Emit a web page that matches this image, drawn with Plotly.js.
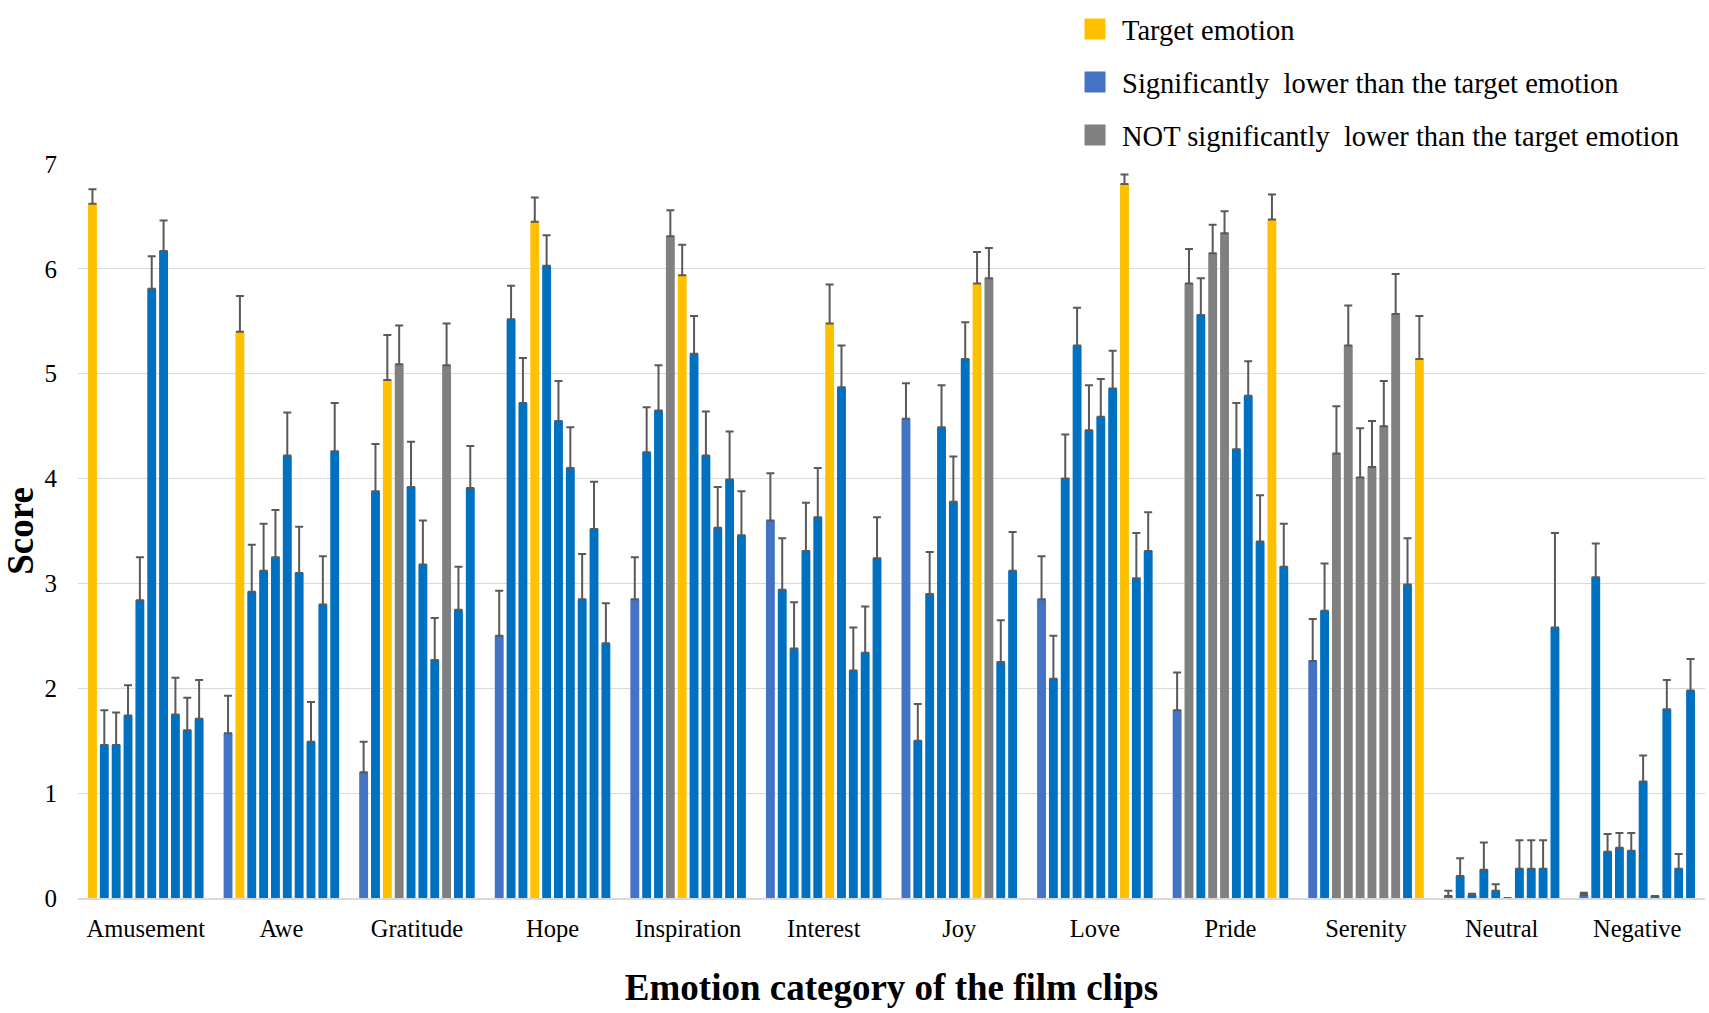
<!DOCTYPE html>
<html>
<head>
<meta charset="utf-8">
<script src="https://cdn.plot.ly/plotly-3.0.1.min.js"></script>
<style>
  html, body { margin: 0; padding: 0; background: #ffffff; }
  #chart { width: 1709px; height: 1013px; }
</style>
</head>
<body>
<div id="chart"></div>
<script>
// Film categories (x axis groups)
const filmCategories = ['Amusement', 'Awe', 'Gratitude', 'Hope', 'Inspiration', 'Interest',
                        'Joy', 'Love', 'Pride', 'Serenity', 'Neutral', 'Negative'];
// Rated emotions (bars within each group, in order)
const ratedEmotions = ['Amusement', 'Awe', 'Gratitude', 'Hope', 'Inspiration', 'Interest',
                       'Joy', 'Love', 'Pride', 'Serenity'];

// Mean scores per film category (one value per rated emotion)
const meanAmusement   = [6.62, 1.46, 1.46, 1.74, 2.84, 5.81, 6.17, 1.75, 1.60, 1.71];
const meanAwe         = [1.57, 5.40, 2.92, 3.12, 3.25, 4.22, 3.10, 1.49, 2.80, 4.26];
const meanGratitude   = [1.20, 3.88, 4.94, 5.09, 3.92, 3.18, 2.27, 5.08, 2.75, 3.91];
const meanHope        = [2.50, 5.52, 4.72, 6.45, 6.03, 4.55, 4.10, 2.85, 3.52, 2.43];
const meanInspiration = [2.85, 4.25, 4.65, 6.31, 5.94, 5.19, 4.22, 3.53, 3.99, 3.46];
const meanInterest    = [3.60, 2.94, 2.38, 3.31, 3.63, 5.48, 4.87, 2.17, 2.34, 3.24];
const meanJoy         = [4.57, 1.50, 2.90, 4.49, 3.78, 5.14, 5.86, 5.91, 2.25, 3.12];
const meanLove        = [2.85, 2.09, 4.00, 5.27, 4.46, 4.59, 4.86, 6.81, 3.05, 3.31];
const meanPride       = [1.79, 5.86, 5.56, 6.15, 6.34, 4.28, 4.79, 3.40, 6.47, 3.16];
const meanSerenity    = [2.26, 2.74, 4.24, 5.27, 4.01, 4.11, 4.50, 5.57, 2.99, 5.14];
const meanNeutral     = [0.02, 0.21, 0.03, 0.27, 0.07, 0.00, 0.28, 0.28, 0.28, 2.58];
const meanNegative    = [0.03, 3.06, 0.44, 0.48, 0.45, 1.11, 0.02, 1.80, 0.28, 1.98];

// Upper error bar lengths per film category
const errAmusement    = [0.14, 0.33, 0.31, 0.29, 0.41, 0.31, 0.29, 0.35, 0.31, 0.37];
const errAwe          = [0.36, 0.34, 0.45, 0.45, 0.45, 0.41, 0.44, 0.38, 0.46, 0.46];
const errGratitude    = [0.29, 0.45, 0.43, 0.37, 0.43, 0.42, 0.40, 0.40, 0.41, 0.40];
const errHope         = [0.43, 0.32, 0.43, 0.23, 0.29, 0.38, 0.39, 0.43, 0.45, 0.38];
const errInspiration  = [0.40, 0.43, 0.43, 0.25, 0.29, 0.36, 0.42, 0.39, 0.46, 0.42];
const errInterest     = [0.45, 0.49, 0.44, 0.46, 0.47, 0.37, 0.40, 0.41, 0.44, 0.39];
const errJoy          = [0.34, 0.35, 0.40, 0.40, 0.43, 0.35, 0.30, 0.29, 0.40, 0.37];
const errLove         = [0.41, 0.41, 0.42, 0.36, 0.43, 0.36, 0.36, 0.09, 0.43, 0.37];
const errPride        = [0.36, 0.33, 0.35, 0.27, 0.21, 0.44, 0.33, 0.44, 0.24, 0.41];
const errSerenity     = [0.40, 0.45, 0.45, 0.38, 0.47, 0.44, 0.43, 0.38, 0.44, 0.41];
const errNeutral      = [0.05, 0.17, 0.01, 0.26, 0.06, 0.00, 0.27, 0.27, 0.27, 0.90];
const errNegative     = [0.02, 0.32, 0.17, 0.14, 0.17, 0.25, 0.00, 0.28, 0.14, 0.30];

// Status per bar: T = target emotion, S = significantly lower, N = NOT significantly lower
const statusAmusement   = ['T','S','S','S','S','S','S','S','S','S'];
const statusAwe         = ['S','T','S','S','S','S','S','S','S','S'];
const statusGratitude   = ['S','S','T','N','S','S','S','N','S','S'];
const statusHope        = ['S','S','S','T','S','S','S','S','S','S'];
const statusInspiration = ['S','S','S','N','T','S','S','S','S','S'];
const statusInterest    = ['S','S','S','S','S','T','S','S','S','S'];
const statusJoy         = ['S','S','S','S','S','S','T','N','S','S'];
const statusLove        = ['S','S','S','S','S','S','S','T','S','S'];
const statusPride       = ['S','N','S','N','N','S','S','S','T','S'];
const statusSerenity    = ['S','S','N','N','N','N','N','N','S','T'];
const statusNeutral     = ['S','S','S','S','S','S','S','S','S','S'];
const statusNegative    = ['S','S','S','S','S','S','S','S','S','S'];

const legendLabels = ['Target emotion',
                      'Significantly  lower than the target emotion',
                      'NOT significantly  lower than the target emotion'];

const filmMeans  = [meanAmusement, meanAwe, meanGratitude, meanHope, meanInspiration, meanInterest,
                    meanJoy, meanLove, meanPride, meanSerenity, meanNeutral, meanNegative];
const filmErrs   = [errAmusement, errAwe, errGratitude, errHope, errInspiration, errInterest,
                    errJoy, errLove, errPride, errSerenity, errNeutral, errNegative];
const filmStatus = [statusAmusement, statusAwe, statusGratitude, statusHope, statusInspiration, statusInterest,
                    statusJoy, statusLove, statusPride, statusSerenity, statusNeutral, statusNegative];

const YELLOW = '#FFC000', BLUE = '#0070C0', LIGHTBLUE = '#4472C4', GRAY = '#808080';
function barColor(status, seriesIndex) {
  if (status === 'T') return YELLOW;
  if (status === 'N') return GRAY;
  return seriesIndex === 0 ? LIGHTBLUE : BLUE;
}

const FONT = 'Liberation Serif, Times New Roman, serif';

const traces = ratedEmotions.map((emo, j) => ({
  type: 'bar',
  name: emo,
  x: filmCategories,
  y: filmMeans.map(a => a[j]),
  marker: { color: filmStatus.map(s => barColor(s[j], j)), line: { width: 0 } },
  error_y: {
    type: 'data', symmetric: false,
    array: filmErrs.map(a => a[j]),
    arrayminus: filmErrs.map(() => 0),
    color: '#595959', thickness: 2, width: 4
  },
  showlegend: false
}));

const legendColors = [YELLOW, LIGHTBLUE, GRAY];
legendLabels.forEach((lab, i) => {
  traces.push({
    type: 'scatter', mode: 'markers', name: lab,
    x: [null], y: [null],
    legendgroup: 'g' + i,
    marker: { symbol: 'square', size: 16, color: legendColors[i], line: { color: legendColors[i], width: 5 } },
    showlegend: true, hoverinfo: 'skip'
  });
});

const layout = {
  width: 1709, height: 1013,
  margin: { l: 78, r: 4, t: 154, b: 115 },
  paper_bgcolor: '#ffffff', plot_bgcolor: '#ffffff',
  barmode: 'group', bargap: 0.126, bargroupgap: 0.25,
  font: { family: FONT, color: '#000000' },
  xaxis: {
    type: 'category',
    showgrid: false, zeroline: false,
    showline: true, linecolor: '#D9D9D9', linewidth: 1.5,
    ticks: '', ticklabelstandoff: 8,
    tickfont: { family: FONT, size: 24.5, color: '#000000' },
    title: { text: '<b>Emotion category of the film clips</b>', font: { family: FONT, size: 37, color: '#000000' }, standoff: 33 },
    fixedrange: true
  },
  yaxis: {
    range: [0, 7], dtick: 1, tick0: 0,
    showgrid: true, gridcolor: '#D9D9D9', gridwidth: 1,
    zeroline: false, showline: false,
    ticks: '', ticklabelstandoff: 20,
    tickfont: { family: FONT, size: 25, color: '#000000' },
    title: { text: '<b>Score</b>', font: { family: FONT, size: 37, color: '#000000' }, standoff: 8 },
    fixedrange: true
  },
  showlegend: true,
  legend: {
    x: 0.6085, xanchor: 'left', y: 1.218, yanchor: 'top',
    font: { family: FONT, size: 28.5, color: '#000000' },
    bgcolor: 'rgba(0,0,0,0)', borderwidth: 0,
    itemwidth: 44,
    tracegroupgap: 13, traceorder: 'grouped'
  }
};

Plotly.newPlot('chart', traces, layout, { displayModeBar: false, staticPlot: true });
</script>
</body>
</html>
